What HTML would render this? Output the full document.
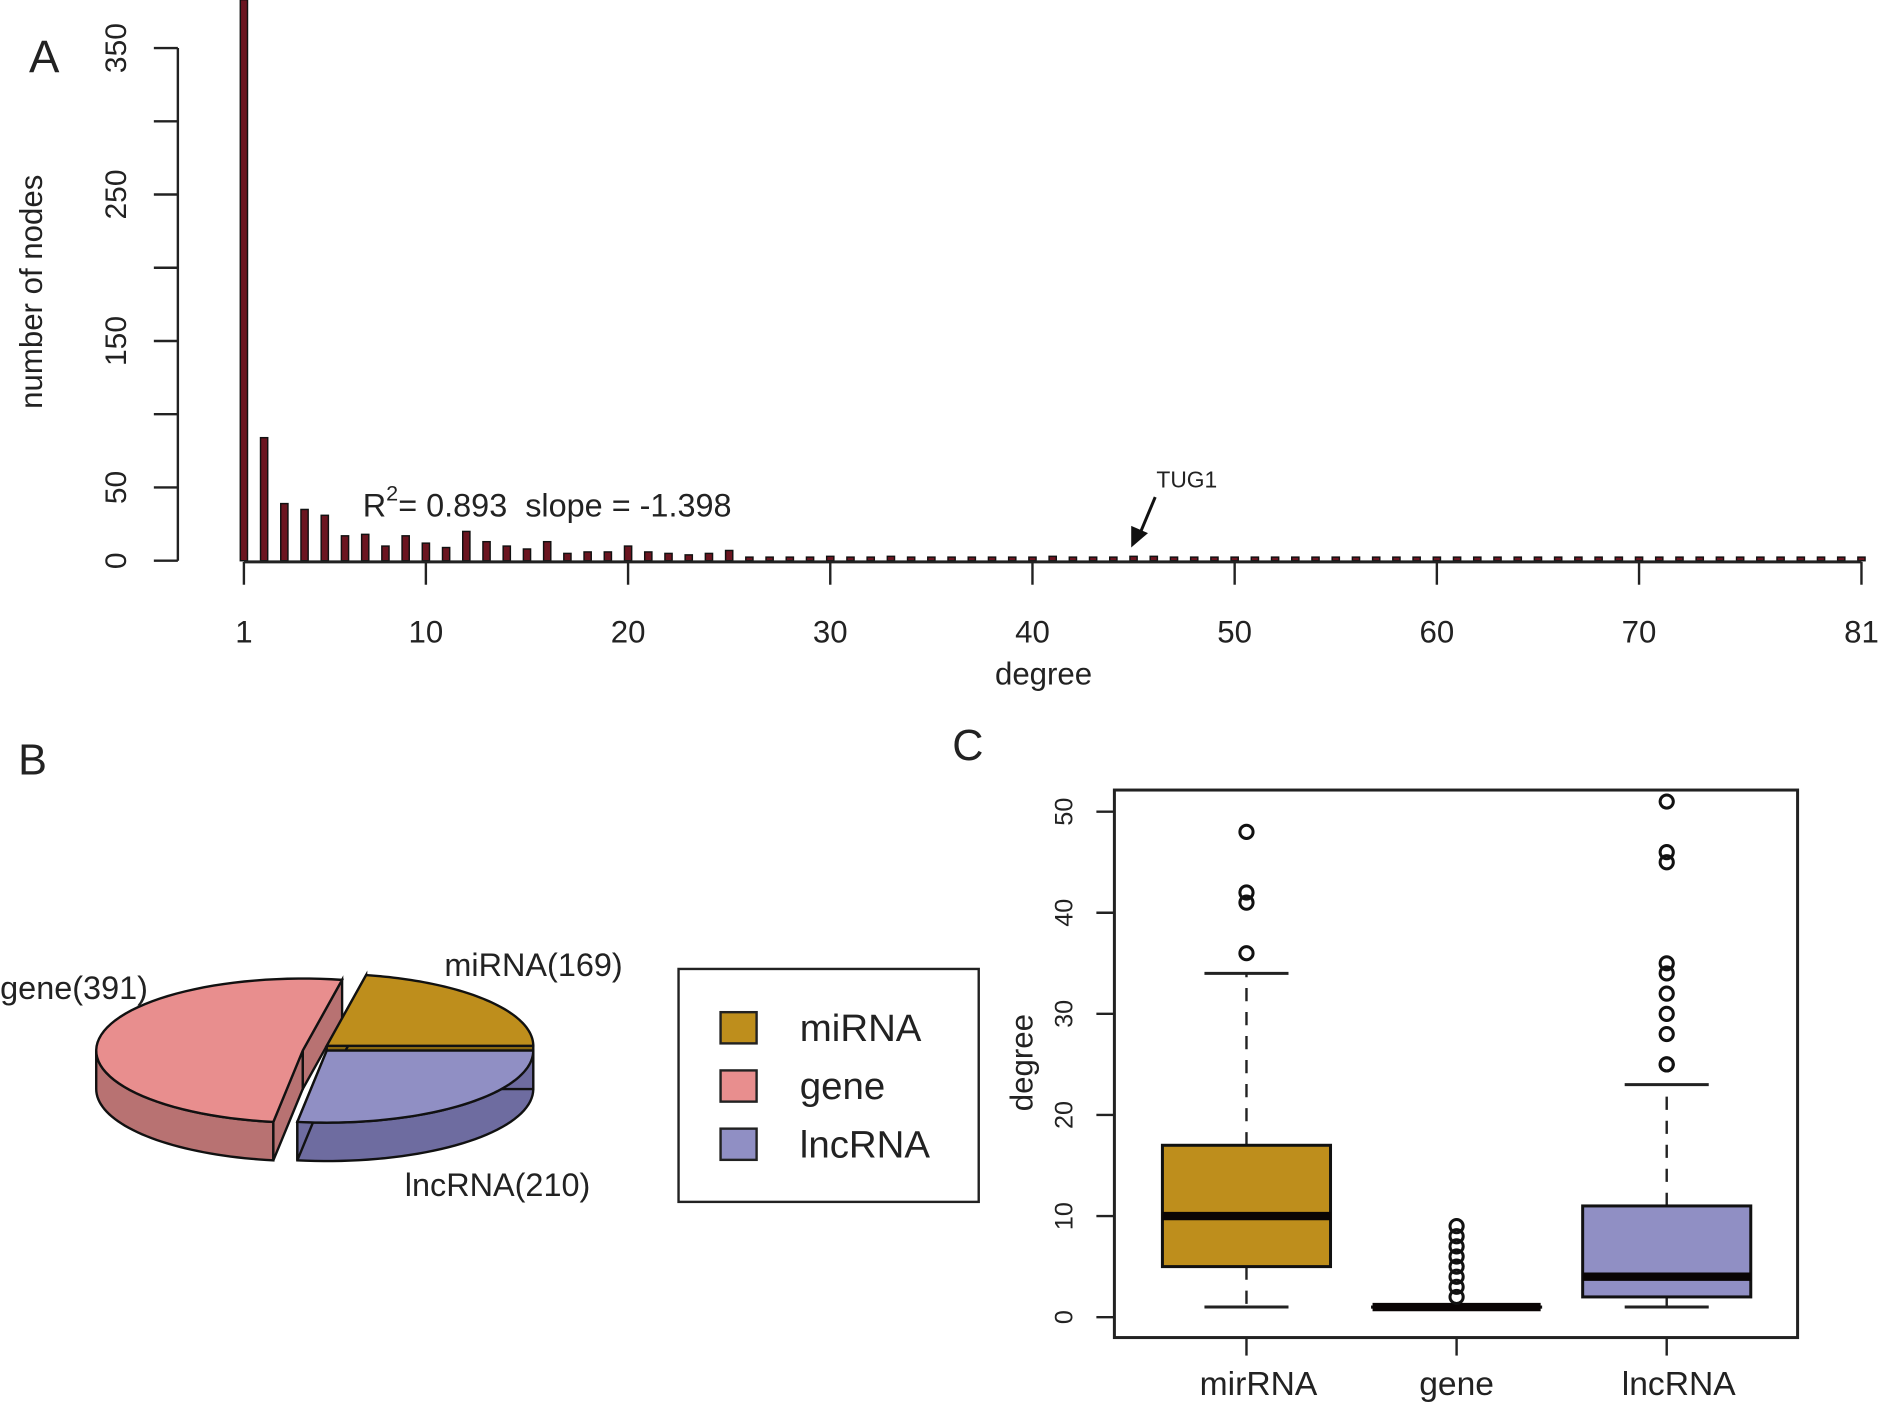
<!DOCTYPE html>
<html><head><meta charset="utf-8"><style>
html,body{margin:0;padding:0;background:#fff}
svg{display:block}
text{font-family:"Liberation Sans",Arial,sans-serif;fill:#222;white-space:pre}
</style></head><body>
<svg id="fig" width="1883" height="1406" viewBox="0 0 1568 1171" xmlns="http://www.w3.org/2000/svg">
<g id="panelA"></g>
<g id="panelB"></g>
<g id="panelC"></g>
</svg>
<script>
// ---- Panel A data ----
const degrees = Array.from({length:81},(_,i)=>i+1);
const nodeCounts = [383,84,39,35,31,17,18,10,17,12,9,20,13,10,8,13,5,6,6,10,6,5,4,5,7,
 2,1,2,1,3,1,2,3,2,2,1,1,1,1,1,3,2,1,1,3,3,1,2,1,1,2,1,1,1,1,2,1,1,1,1,1,1,1,1,1,1,1,1,1,1,1,1,1,1,1,1,1,1,1,1,1];
const yTicksA = [0,50,100,150,200,250,300,350];
const yLabelsA = [0,50,150,250,350];
const xTicksA = [1,10,20,30,40,50,60,70,81];
// ---- Panel B data ----
const pieCategories = ["miRNA","gene","lncRNA"];
const pieValues = [169,391,210];
// ---- Panel C data ----
const boxCategories = ["mirRNA","gene","lncRNA"];
const boxLow = [1,1,1];
const boxQ1 = [5,1,2];
const boxMedian = [10,1,4];
const boxQ3 = [17,1,11];
const boxHigh = [34,1,23];
const boxOutliers = [[36,41,42,48],[2,3,4,5,6,7,8,9],[25,25,28,30,32,34,35,45,46,51]];
const yTicksC = [0,10,20,30,40,50];

const NS="http://www.w3.org/2000/svg";
function mk(parent,tag,attrs,txt){const e=document.createElementNS(NS,tag);for(const k in attrs)e.setAttribute(k,attrs[k]);if(txt!==undefined)e.textContent=txt;parent.appendChild(e);return e;}

// ===== Panel A =====
const A=document.getElementById('panelA');
const xA=d=>203+(d-1)*16.84;
const yA=v=>467-v*1.22;
mk(A,'text',{x:24,y:60,'font-size':38,},'A');
const yax=mk(A,'g',{});


mk(yax,'line',{x1:148,y1:yA(0),x2:148,y2:yA(350),stroke:'#222','stroke-width':2});
yTicksA.forEach(t=>{mk(yax,'line',{x1:128,y1:yA(t),x2:148,y2:yA(t),stroke:'#222','stroke-width':2});});
yLabelsA.forEach(t=>{const y=yA(t);const tx=mk(yax,'text',{x:105,y:y,'font-size':25,'text-anchor':'middle',transform:`rotate(-90 105 ${y})`},String(t));
 });
mk(A,'text',{x:35,y:243,'font-size':26,'text-anchor':'middle',transform:'rotate(-90 35 243)',},'number of nodes');
degrees.forEach((d,i)=>{const v=nodeCounts[i];const h=Math.max(v*1.22,3);
 const r=mk(A,'rect',{x:xA(d)-3,y:467-h,width:6,height:h,fill:'#6b1520',stroke:'#111','stroke-width':1.2});
 });
const xax=mk(A,'g',{});


mk(xax,'line',{x1:xA(1),y1:468,x2:xA(81),y2:468,stroke:'#222','stroke-width':2.5});
xTicksA.forEach(t=>{mk(xax,'line',{x1:xA(t),y1:468,x2:xA(t),y2:487,stroke:'#222','stroke-width':2});
 const tx=mk(xax,'text',{x:xA(t),y:535,'font-size':26,'text-anchor':'middle'},String(t));
 });
mk(A,'text',{x:869,y:570,'font-size':26,'text-anchor':'middle',},'degree');
const ann=mk(A,'text',{x:302,y:430,'font-size':27,});
ann.innerHTML='R<tspan dy="-13" font-size="18">2</tspan><tspan dy="13">= 0.893  slope = -1.398</tspan>';
mk(A,'text',{x:963,y:406,'font-size':19,},'TUG1');
mk(A,'line',{x1:962,y1:414,x2:949,y2:445,stroke:'#111','stroke-width':2.5,});
mk(A,'polygon',{points:'942,456 942,438 956,444',fill:'#111'});

// ===== Panel B =====
const B=document.getElementById('panelB');
mk(B,'text',{x:15,y:645,'font-size':36,},'B');
const cx=264,cy=873,rx=172,ry=60,dep=32;
const fills=['#BE8E1C','#E88E8E','#908FC4'], sides=['#8a6810','#B87272','#6E6CA0'];
const offs=[[8,-2],[-12,2],[8,2]];
const total=pieValues.reduce((a,b)=>a+b,0);
let a0=0;const slices=[];
pieValues.forEach((v,i)=>{const a1=a0+v/total*2*Math.PI;slices.push([a0,a1]);a0=a1;});
const pt=(i,a,dy=0)=>[cx+offs[i][0]+rx*Math.cos(a),cy+offs[i][1]-ry*Math.sin(a)+dy];
slices.forEach(([s,e],i)=>{
 const lo=Math.max(s,Math.PI),hi=Math.min(e,2*Math.PI);
 const g=mk(B,'g',{});
 if(hi>lo){let d='';const n=40;for(let k=0;k<=n;k++){const p=pt(i,lo+(hi-lo)*k/n);d+=(k?'L':'M')+p[0]+','+p[1];}
  for(let k=n;k>=0;k--){const p=pt(i,lo+(hi-lo)*k/n,dep);d+='L'+p[0]+','+p[1];}
  mk(g,'path',{d:d+'Z',fill:sides[i],stroke:'#111','stroke-width':2});}
 const c=[cx+offs[i][0],cy+offs[i][1]];
 [s,e].forEach(a=>{const p=pt(i,a);mk(g,'path',{d:`M${c[0]},${c[1]}L${p[0]},${p[1]}L${p[0]},${p[1]+dep}L${c[0]},${c[1]+dep}Z`,fill:sides[i],stroke:'#111','stroke-width':2});});
});
slices.forEach(([s,e],i)=>{
 const c=[cx+offs[i][0],cy+offs[i][1]];let d=`M${c[0]},${c[1]}`;const n=60;
 for(let k=0;k<=n;k++){const p=pt(i,s+(e-s)*k/n);d+='L'+p[0]+','+p[1];}
 const p=mk(B,'path',{d:d+'Z',fill:fills[i],stroke:'#111','stroke-width':2});
 
});
mk(B,'text',{x:370,y:813,'font-size':27,},`miRNA(${pieValues[0]})`);
mk(B,'text',{x:0,y:832,'font-size':27,},`gene(${pieValues[1]})`);
mk(B,'text',{x:337,y:996,'font-size':27,},`lncRNA(${pieValues[2]})`);
const L=mk(B,'g',{});
mk(L,'rect',{x:565,y:807,width:250,height:194,fill:'#fff',stroke:'#222','stroke-width':2});
pieCategories.forEach((c,i)=>{const y=856+i*48.5;const g=mk(L,'g',{});
 
 mk(g,'rect',{x:600,y:y-13,width:30,height:26,fill:fills[i],stroke:'#222','stroke-width':2});
 mk(g,'text',{x:666,y:y+11,'font-size':32},c);});

// ===== Panel C =====
const C=document.getElementById('panelC');
mk(C,'text',{x:793,y:633,'font-size':36,},'C');
const yC=v=>1097-v*8.42;
const xC=i=>1038+i*175;
mk(C,'rect',{x:928,y:658,width:569,height:456,fill:'none',stroke:'#222','stroke-width':2.5,});
yTicksC.forEach(t=>{const y=yC(t);mk(C,'line',{x1:913,y1:y,x2:928,y2:y,stroke:'#222','stroke-width':2});
 const tx=mk(C,'text',{x:893,y:y,'font-size':21,'text-anchor':'middle',transform:`rotate(-90 893 ${y})`},String(t));
 });
mk(C,'text',{x:860,y:885,'font-size':26,'text-anchor':'middle',transform:'rotate(-90 860 885)',},'degree');
const boxFills=['#BE8E1C','#ffffff','#908FC4'];
boxCategories.forEach((c,i)=>{const x=xC(i);const g=mk(C,'g',{});
 
 mk(g,'line',{x1:x,y1:1114,x2:x,y2:1129,stroke:'#222','stroke-width':2});
 const tl=mk(C,'text',{x:x+10*(i==0?1:0)+(i==2?10:0),y:1162,'font-size':28,'text-anchor':'middle'},c);
 
 mk(g,'line',{x1:x,y1:yC(boxQ3[i]),x2:x,y2:yC(boxHigh[i]),stroke:'#222','stroke-width':2,'stroke-dasharray':'11,9'});
 mk(g,'line',{x1:x,y1:yC(boxQ1[i]),x2:x,y2:yC(boxLow[i]),stroke:'#222','stroke-width':2,'stroke-dasharray':'11,9'});
 mk(g,'line',{x1:x-35,y1:yC(boxHigh[i]),x2:x+35,y2:yC(boxHigh[i]),stroke:'#222','stroke-width':2.5});
 mk(g,'line',{x1:x-35,y1:yC(boxLow[i]),x2:x+35,y2:yC(boxLow[i]),stroke:'#222','stroke-width':2.5});
 mk(g,'rect',{x:x-70,y:yC(boxQ3[i]),width:140,height:Math.max(yC(boxQ1[i])-yC(boxQ3[i]),0.1),fill:boxFills[i],stroke:'#111','stroke-width':2.5});
 mk(g,'line',{x1:x-70,y1:yC(boxMedian[i]),x2:x+70,y2:yC(boxMedian[i]),stroke:'#0a0505','stroke-width':7});
 boxOutliers[i].forEach(o=>{const cc=mk(g,'circle',{cx:x,cy:yC(o),r:5.5,fill:'none',stroke:'#111','stroke-width':2.5});
  });
});
</script>
</body></html>
